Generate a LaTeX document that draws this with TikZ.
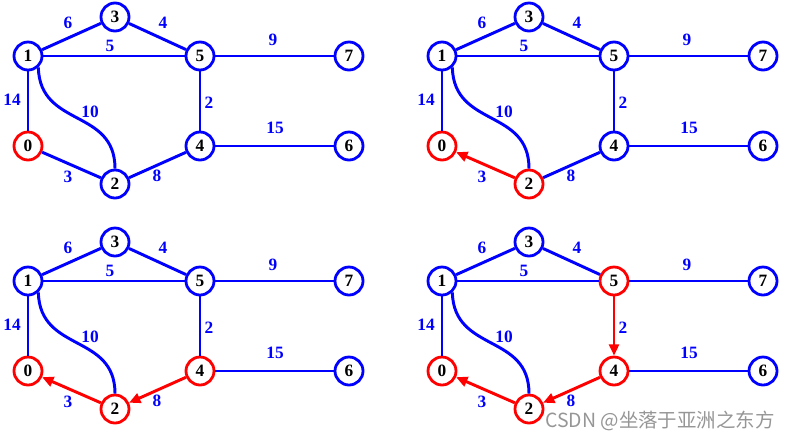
\documentclass[tikz,border=0pt]{standalone}
\usepackage{fontspec}
\setmainfont{Liberation Serif}
\newfontfamily\cjk{Noto Sans CJK SC}
\usetikzlibrary{arrows.meta}
\definecolor{gblue}{RGB}{0,0,255}
\definecolor{gred}{RGB}{255,0,0}
\definecolor{wmgray}{RGB}{150,150,150}
\tikzset{
  vtx/.style={circle, draw=gblue, line width=2.1pt, fill=white, minimum size=21pt, inner sep=0pt,
     font=\fontsize{13}{13}\selectfont\bfseries, text=black},
  rednode/.style={draw=gred},
  edge/.style={draw=gblue, line width=2.2pt},
  redarrow/.style={draw=gred, line width=2.2pt, -{Triangle[length=8.5pt,width=7.5pt]}, fill=gred},
  lbl/.style={text=gblue, font=\fontsize{13}{13}\selectfont\bfseries, inner sep=0pt},
  c0/.style={rednode}, c2/.style={}, c4/.style={}, c5/.style={},
  e02/.style={edge}, e24/.style={edge}, e54/.style={edge},
  wm/.style={text=wmgray, font=\fontsize{14.6}{14.6}\cjk, inner sep=0pt}
}
\newcommand\drawgraph[1]{%
  \node[vtx] (#1-1) at (28,56) {1};
  \node[vtx] (#1-3) at (115,17) {3};
  \node[vtx,c5] (#1-5) at (200,56) {5};
  \node[vtx] (#1-7) at (349,56) {7};
  \node[vtx,c0] (#1-0) at (28,146) {0};
  \node[vtx,c4] (#1-4) at (200,146) {4};
  \node[vtx] (#1-6) at (349,146) {6};
  \node[vtx,c2] (#1-2) at (115,184) {2};
  \draw[edge] (#1-1) -- (#1-3);
  \draw[edge] (#1-3) -- (#1-5);
  \draw[edge] (#1-1) -- (#1-5);
  \draw[edge] (#1-5) -- (#1-7);
  \draw[edge] (#1-1) -- (#1-0);
  \draw[edge] (#1-4) -- (#1-6);
  \draw[edge] (#1-1.-48) .. controls (40,128) and (115,108) .. (#1-2.north);
  \draw[e54] (#1-5) -- (#1-4);
  \draw[e24] (#1-4) -- (#1-2);
  \draw[e02] (#1-2) -- (#1-0);
  \node[lbl] (#1-l6) at (68,23) {6};
  \node[lbl] (#1-l4) at (163,23) {4};
  \node[lbl] (#1-l5) at (110,46) {5};
  \node[lbl] (#1-l9) at (273,40) {9};
  \node[lbl] (#1-l14) at (12,100) {14};
  \node[lbl] (#1-l10) at (90,112) {10};
  \node[lbl] (#1-l2) at (209,103) {2};
  \node[lbl] (#1-l15) at (275,128) {15};
  \node[lbl] (#1-l3) at (68,177) {3};
  \node[lbl] (#1-l8) at (157,176) {8};
}
\begin{document}
\begin{tikzpicture}[x=0.75pt,y=-0.75pt]
\useasboundingbox (0,0) rectangle (791,437);
\begin{scope}
  \drawgraph{a}
\end{scope}
\begin{scope}[shift={(414,0)}, c2/.style={rednode}, e02/.style={redarrow}]
  \drawgraph{b}
\end{scope}
\begin{scope}[shift={(0,225)}, c2/.style={rednode}, c4/.style={rednode}, e02/.style={redarrow}, e24/.style={redarrow}]
  \drawgraph{c}
\end{scope}
\begin{scope}[shift={(414,225)}, c2/.style={rednode}, c4/.style={rednode}, c5/.style={rednode}, e02/.style={redarrow}, e24/.style={redarrow}, e54/.style={redarrow}]
  \drawgraph{d}
\end{scope}
\node[wm, anchor=west] (wm) at (545,421) {CSDN @坐落于亚洲之东方};
\end{tikzpicture}
\end{document}
